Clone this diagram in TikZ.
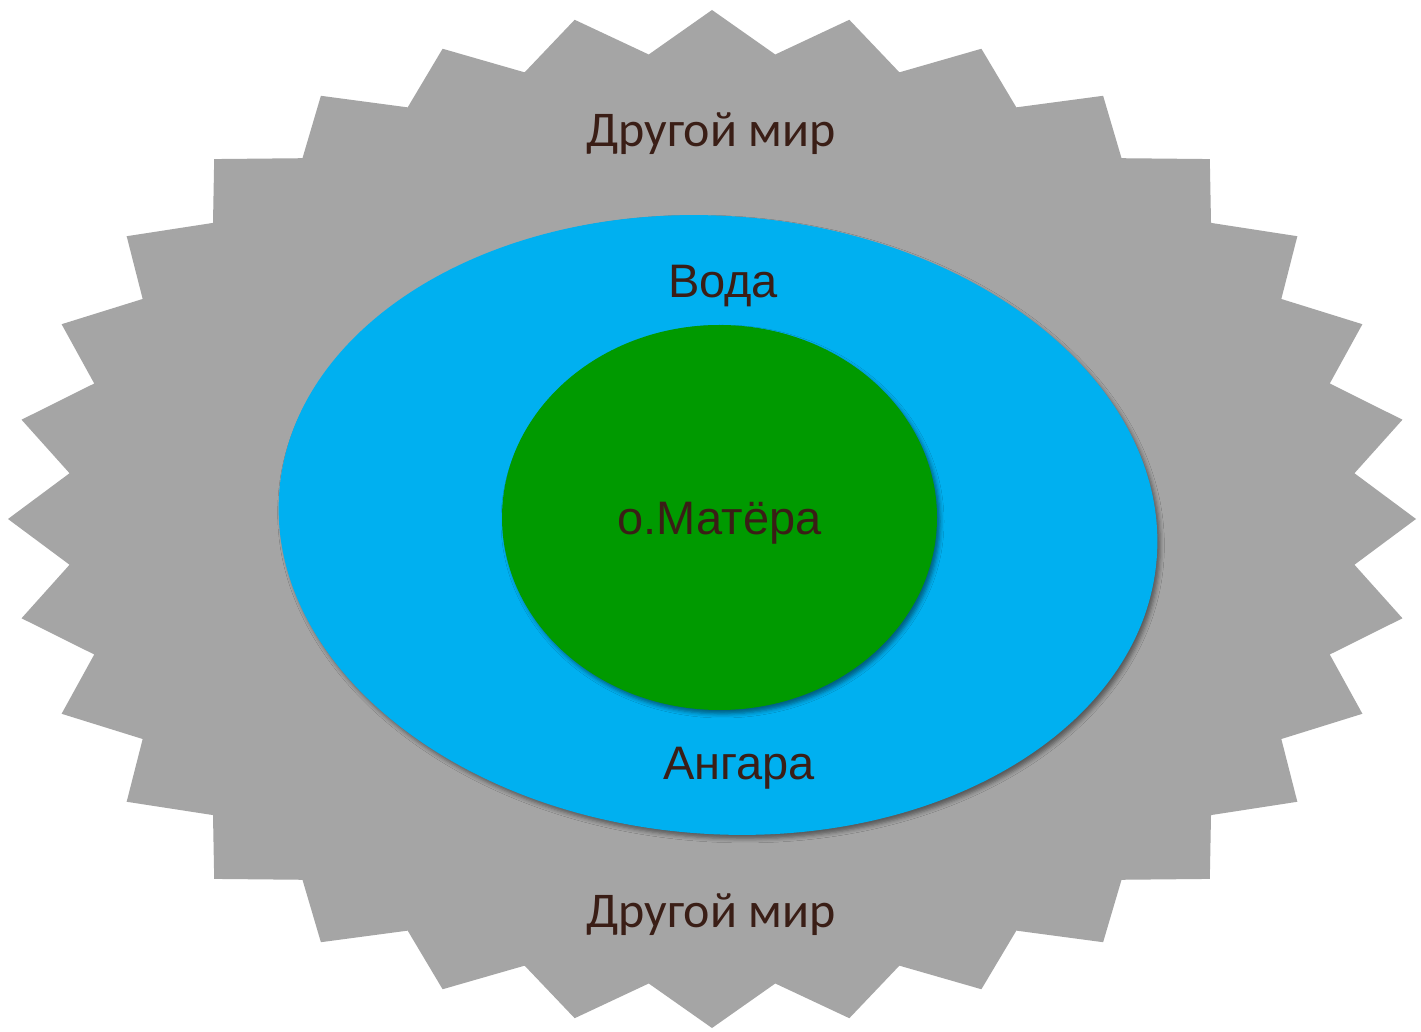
\documentclass[tikz,border=0pt]{standalone}
\usepackage{fontspec}
\setmainfont{Liberation Sans}
\newfontfamily\calib{Carlito}
\usetikzlibrary{shadows.blur}
\definecolor{stargray}{HTML}{A5A5A5}
\definecolor{water}{HTML}{00B0F0}
\definecolor{land}{HTML}{009A00}
\definecolor{txt}{RGB}{58,30,22}
\tikzset{
  lbl/.style={text=txt,inner sep=0pt,anchor=base,font=\fontsize{47}{56}\selectfont},
  lblc/.style={text=txt,inner sep=0pt,anchor=base,font=\calib\fontsize{50}{60}\selectfont},
  shad/.style={blur shadow={shadow xshift=3pt,shadow yshift=-4pt,shadow blur radius=4pt,shadow opacity=45}}
}
\begin{document}
\begin{tikzpicture}[x=1pt,y=1pt]
\useasboundingbox[fill=white] (0,0) rectangle (1421,1031);
% star (y up: y = 1031 - y_img)
\fill[stargray] (712,1021)
  \foreach \k [evaluate=\k as \r using {ifthenelse(mod(\k,2)==0,1,0.917)}] in {1,...,63}
  { -- ({712+704*\r*cos(90-\k*5.625)},{512+509*\r*sin(90-\k*5.625)}) } -- cycle;
% water
\fill[water,shad] (718,506) ellipse [x radius=440, y radius=309, rotate=-4.3];
% island
\fill[land,shad] (719.5,513.5) ellipse [x radius=217.5, y radius=192.5];
% labels
\node[lblc] (top) at (711,884) {Другой мир};
\node[lblc] (bot) at (711,104) {Другой мир};
\node[lbl] (voda) at (723,733) {Вода};
\node[lbl] (ostrov) at (719.5,496) {о.Матёра};
\node[lbl] (angara) at (739,251) {Ангара};
\end{tikzpicture}
\end{document}
